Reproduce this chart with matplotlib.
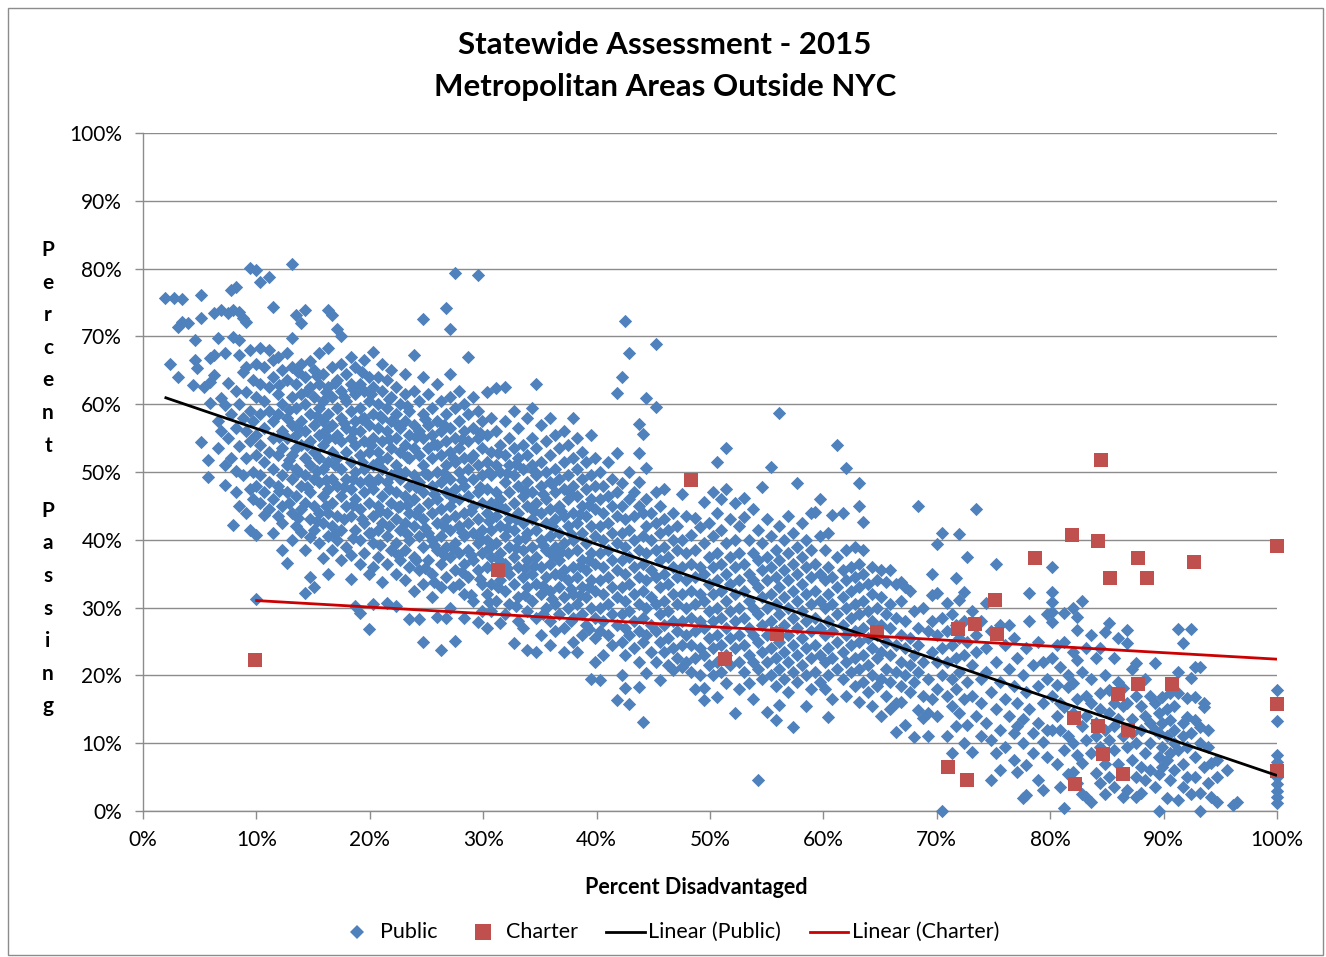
import numpy as np
import matplotlib
matplotlib.use("Agg")
import matplotlib.pyplot as plt
from matplotlib.lines import Line2D
from matplotlib.patches import Rectangle
from matplotlib.ticker import MultipleLocator, FuncFormatter

# ---------------- data (percent disadvantaged, percent passing) ----------------
# Public schools, written as (x, [y values at about that x]) per decade of x
public_00 = [
    (1.9, [75.7]), (2.4, [65.9]), (2.7, [75.7]), (3.1, [71.4, 64.0]), (3.4, [75.5, 72.1]),
    (4.0, [72.0]), (4.4, [62.8]), (4.6, [66.5, 69.5]), (4.8, [65.3]), (5.1, [72.7, 54.4, 76.1]),
    (5.4, [62.5]), (5.7, [49.3, 51.8]), (5.9, [63.3, 66.8, 60.2]), (6.3, [73.5, 64.3, 67.2]),
    (6.6, [69.8, 53.5, 57.5]), (6.9, [73.9, 60.9, 56.0]), (7.2, [67.6, 59.9, 51.0, 48.1]),
    (7.5, [63.1, 55.0, 73.5]), (7.8, [76.8, 58.5, 52.1]), (7.9, [69.9, 73.9, 42.2]),
    (8.2, [77.3, 62.0, 56.5, 50.2, 47.0]), (8.5, [69.5, 73.6, 67.3, 60.0, 53.8, 45.0]),
    (8.8, [72.7, 64.7, 58.0, 49.5]), (9.1, [65.5, 61.8, 56.0, 52.0, 44.0, 72.1]),
    (9.4, [80.1, 68.0, 59.0, 54.5, 47.5, 41.5]), (9.7, [63.5, 57.5, 50.0, 46.0]),
    (10.0, [79.8, 66.0, 61.0, 55.5, 52.5, 48.0, 40.7, 31.3]),
]
public_10 = [
    (10.3, [68.3, 63.0, 58.5, 54.0, 49.5, 45.5, 78.0]), (10.7, [65.5, 60.5, 56.5, 51.5, 47.0, 43.7]),
    (11.1, [78.8, 68.0, 62.5, 59.0, 53.0, 48.5, 44.5]), (11.5, [74.3, 66.5, 64.0, 57.5, 55.0, 50.5, 46.0, 41.0]),
    (11.9, [67.0, 61.5, 58.5, 52.5, 48.0, 43.5]), (12.3, [65.0, 60.0, 56.0, 53.5, 49.5, 45.0, 42.5, 38.5]),
    (12.7, [67.6, 63.5, 58.0, 55.0, 51.0, 47.0, 36.6]), (13.1, [80.7, 69.8, 65.5, 61.0, 57.0, 52.5, 49.0, 44.0, 40.0]),
    (13.5, [73.2, 63.0, 59.5, 55.5, 53.5, 50.5, 46.5, 42.0]), (13.9, [72.0, 66.0, 61.5, 57.5, 54.0, 48.0, 44.5, 41.2]),
    (14.3, [73.9, 64.0, 60.0, 56.0, 52.0, 49.5, 45.5, 32.2, 38.5]),
    (14.7, [66.4, 62.5, 58.5, 54.5, 51.0, 47.0, 43.0, 40.4, 34.5]),
    (15.1, [65.0, 61.0, 57.0, 53.0, 49.0, 45.0, 41.5, 33.0]), (15.5, [67.5, 63.0, 59.5, 55.5, 52.0, 48.5, 44.0, 39.5]),
    (15.9, [64.5, 60.5, 57.5, 54.0, 50.5, 46.5, 42.5, 37.3]),
    (16.3, [73.9, 68.3, 62.5, 58.5, 55.0, 51.5, 47.5, 44.0, 40.5, 35.0]),
    (16.7, [73.2, 65.5, 61.0, 57.0, 53.0, 49.0, 45.5, 42.0, 38.5]),
    (17.1, [71.1, 63.5, 59.5, 55.5, 52.0, 48.0, 43.5, 40.0]),
    (17.5, [70.1, 66.0, 62.0, 58.0, 54.5, 50.5, 46.5, 41.5, 37.0]),
    (17.9, [64.5, 60.5, 56.5, 53.0, 49.0, 45.0, 39.0]),
    (18.3, [67.0, 63.0, 59.0, 55.0, 51.5, 47.5, 43.5, 37.8, 34.2]),
    (18.7, [65.5, 61.5, 57.5, 54.0, 50.0, 46.0, 41.5, 30.3]),
    (19.1, [63.0, 59.5, 56.0, 52.5, 48.5, 44.5, 40.0, 36.5, 29.2]),
    (19.5, [66.5, 62.0, 58.0, 54.5, 50.5, 47.0, 42.5, 38.0]),
    (19.9, [64.0, 60.5, 57.0, 53.0, 49.0, 45.5, 41.0, 26.8, 35.0]),
]
public_20 = [
    (20.3, [67.7, 62.5, 58.5, 55.0, 51.0, 47.5, 43.5, 39.5, 36.0, 30.5]),
    (20.7, [64.0, 60.0, 56.5, 53.0, 49.0, 45.0, 41.5, 37.5]),
    (21.1, [66.0, 62.0, 58.0, 54.5, 50.5, 46.5, 42.5, 33.8]),
    (21.5, [63.5, 59.5, 56.0, 52.0, 48.5, 44.0, 40.5, 36.5, 30.7]),
    (21.9, [65.0, 61.0, 57.5, 53.5, 49.5, 45.5, 38.5]),
    (22.3, [62.5, 58.5, 55.0, 51.0, 47.0, 43.0, 39.5, 35.0, 30.2]),
    (22.7, [60.0, 56.5, 53.0, 49.0, 45.0, 41.5, 37.0]),
    (23.1, [64.5, 61.5, 57.5, 54.0, 50.0, 46.5, 42.5, 38.5, 34.0]),
    (23.5, [59.0, 55.5, 52.0, 48.0, 44.0, 40.0, 36.0, 28.3]),
    (23.9, [67.3, 62.0, 57.0, 53.5, 49.5, 46.0, 42.0, 37.5, 32.5]),
    (24.3, [60.5, 56.0, 52.5, 48.5, 44.5, 40.5, 35.5, 28.3]),
    (24.7, [72.5, 64.0, 58.5, 55.0, 51.0, 47.0, 43.0, 39.0, 33.5, 24.9]),
    (25.1, [61.5, 57.0, 53.5, 49.5, 45.5, 41.0, 37.0]),
    (25.5, [59.5, 55.5, 52.0, 48.0, 44.0, 40.0, 35.0, 31.5]),
    (25.9, [63.0, 57.5, 54.0, 50.0, 46.0, 42.5, 38.5, 28.6]),
    (26.3, [60.5, 56.0, 52.5, 48.5, 44.5, 40.5, 36.5, 33.0, 23.7]),
    (26.7, [74.2, 58.5, 54.5, 51.0, 47.0, 43.0, 39.0, 34.5, 28.5]),
    (27.1, [71.1, 64.5, 61.0, 56.5, 53.0, 49.0, 45.0, 41.5, 37.5, 30.0]),
    (27.5, [79.3, 59.5, 55.0, 51.5, 47.5, 43.5, 39.5, 35.5, 25.1]),
    (27.9, [62.0, 57.5, 53.5, 50.0, 46.0, 42.0, 38.0, 33.5]),
    (28.3, [60.0, 56.0, 52.0, 48.0, 44.0, 40.5, 36.5, 32.0, 28.5]),
    (28.7, [67.0, 58.5, 54.5, 50.5, 46.5, 42.5, 38.5, 34.5]),
    (29.1, [61.0, 56.5, 52.5, 49.0, 45.0, 41.0, 37.0, 31.0]),
    (29.5, [79.0, 59.0, 55.0, 51.0, 47.0, 43.0, 39.5, 35.5, 27.9]),
    (29.9, [57.5, 53.5, 49.5, 45.5, 41.5, 38.0, 33.5, 29.5]),
]
public_30 = [
    (30.3, [61.8, 55.5, 51.5, 47.5, 44.0, 40.0, 36.0, 32.0, 27.0]),
    (30.7, [58.0, 53.0, 49.5, 45.5, 41.5, 37.5, 33.5, 29.5]),
    (31.1, [62.4, 56.0, 51.0, 47.0, 43.5, 39.5, 35.5, 31.0]),
    (31.5, [54.0, 50.0, 46.0, 42.0, 38.0, 34.0, 27.7]),
    (31.9, [62.5, 57.5, 52.5, 48.5, 44.5, 40.5, 36.5, 32.5, 29.0]),
    (32.3, [55.0, 51.0, 47.0, 43.0, 39.0, 35.0, 30.5]),
    (32.7, [59.0, 53.5, 49.5, 45.5, 41.5, 37.5, 33.5, 24.8]),
    (33.1, [56.5, 52.0, 48.0, 44.0, 40.0, 36.0, 31.5, 28.0]),
    (33.5, [54.0, 50.5, 46.5, 42.5, 38.5, 34.5, 27.0]),
    (33.9, [58.0, 52.5, 48.5, 45.0, 41.0, 37.0, 33.0, 29.5, 23.7]),
    (34.3, [59.4, 55.0, 51.0, 47.0, 43.0, 39.0, 35.0, 31.0]),
    (34.7, [63.0, 53.5, 49.5, 45.5, 41.5, 37.5, 33.5, 28.5, 23.5]),
    (35.1, [57.0, 51.5, 48.0, 44.0, 40.0, 36.0, 32.0, 26.0]),
    (35.5, [54.5, 50.0, 46.0, 42.5, 38.5, 34.5, 30.0]),
    (35.9, [58.0, 52.5, 48.5, 44.5, 40.5, 36.5, 32.5, 28.0, 24.5]),
    (36.3, [55.5, 50.5, 47.0, 43.0, 39.0, 35.0, 30.5, 26.5]),
    (36.7, [53.5, 49.0, 45.0, 41.0, 37.0, 33.0, 29.0]),
    (37.1, [56.0, 51.5, 47.5, 43.5, 39.5, 35.5, 31.5, 27.0, 23.5]),
    (37.5, [54.0, 49.5, 46.0, 42.0, 38.0, 34.0, 30.0]),
    (37.9, [58.0, 52.0, 48.0, 44.0, 40.0, 36.0, 32.0, 28.5, 25.0]),
    (38.3, [55.0, 50.5, 46.5, 42.5, 38.5, 34.5, 30.5, 23.5]),
    (38.7, [53.0, 49.0, 45.0, 41.0, 37.0, 33.0, 29.0, 26.0]),
    (39.1, [51.5, 47.5, 43.5, 39.5, 35.5, 31.5, 27.5]),
    (39.5, [55.5, 49.5, 46.0, 42.0, 38.0, 34.0, 30.0, 19.5]),
    (39.9, [52.0, 48.0, 44.5, 40.5, 36.5, 32.5, 28.5, 25.5, 22.0]),
]
public_40 = [
    (40.3, [50.0, 46.0, 42.0, 38.0, 34.0, 30.0, 26.5, 19.3]),
    (40.6, [48.0, 44.0, 40.0, 36.0, 32.0, 28.0, 23.0]),
    (41.0, [51.5, 46.5, 42.5, 38.5, 34.5, 30.5, 26.0]),
    (41.4, [49.0, 45.0, 41.0, 37.0, 33.0, 29.0, 24.5]),
    (41.8, [61.6, 52.8, 47.0, 43.5, 39.5, 35.5, 31.5, 27.5, 16.4]),
    (42.2, [64.0, 48.4, 45.0, 41.0, 37.0, 33.0, 29.0, 25.0, 20.0]),
    (42.5, [72.3, 43.0, 39.0, 35.0, 31.0, 27.0, 23.0, 18.1]),
    (42.9, [67.6, 50.0, 46.0, 41.5, 37.5, 33.5, 29.5, 26.0, 15.8]),
    (43.3, [47.0, 43.5, 40.0, 36.0, 32.0, 28.0, 24.0]),
    (43.7, [57.1, 52.8, 48.5, 45.0, 38.5, 34.5, 30.5, 26.5, 22.0, 18.3]),
    (44.1, [55.6, 44.0, 40.5, 36.5, 32.5, 28.5, 25.0, 13.1]),
    (44.4, [60.9, 50.6, 46.0, 42.0, 38.0, 34.0, 30.0, 26.0, 20.4]),
    (44.8, [43.9, 40.0, 35.5, 31.5, 27.5, 23.5]),
    (45.2, [68.9, 59.6, 47.0, 42.5, 38.5, 34.5, 30.5, 26.5, 22.0]),
    (45.6, [45.0, 41.0, 37.0, 33.0, 29.0, 25.0, 19.3]),
    (45.9, [47.5, 43.0, 39.0, 35.0, 31.0, 27.5, 23.5]),
    (46.3, [41.4, 37.5, 33.5, 29.5, 25.5, 21.5]),
    (46.7, [44.0, 40.0, 36.0, 32.0, 28.0, 24.0, 20.8]),
    (47.1, [42.0, 38.5, 34.5, 30.5, 26.5, 22.5]),
    (47.5, [46.7, 40.0, 36.0, 32.0, 28.0, 24.5, 21.2]),
    (47.9, [43.5, 38.0, 34.0, 30.0, 26.0, 22.0]),
    (48.3, [40.7, 36.5, 32.5, 28.5, 24.5, 20.5]),
    (48.7, [43.2, 38.5, 34.5, 30.5, 26.5, 22.5, 18.0]),
    (49.1, [41.9, 36.0, 32.0, 28.0, 24.0, 20.0]),
    (49.5, [45.6, 39.5, 35.0, 31.0, 27.0, 23.0, 18.1, 16.4]),
    (49.9, [42.5, 37.5, 33.5, 29.5, 25.5, 21.5]),
]
public_50 = [
    (50.3, [47.0, 40.5, 36.0, 32.0, 28.0, 24.0, 20.0]),
    (50.6, [51.5, 44.0, 38.0, 34.0, 30.0, 26.0, 22.0, 16.8]),
    (51.0, [46.0, 41.5, 36.5, 32.5, 28.5, 24.5, 20.5]),
    (51.4, [53.5, 47.5, 39.5, 35.0, 31.0, 27.0, 23.0, 18.9]),
    (51.8, [43.0, 37.5, 33.5, 29.5, 25.5, 21.5]),
    (52.2, [45.5, 40.0, 36.0, 32.0, 28.0, 24.0, 14.5]),
    (52.6, [42.0, 38.0, 34.0, 30.0, 26.0, 22.0, 18.0]),
    (53.0, [46.2, 43.4, 36.5, 32.5, 28.5, 24.5, 20.5]),
    (53.4, [40.0, 35.0, 31.0, 27.0, 23.0, 18.9]),
    (53.8, [44.5, 38.0, 34.0, 30.0, 26.0, 22.0, 16.5]),
    (54.2, [41.5, 37.0, 33.0, 29.0, 25.0, 21.0, 4.6]),
    (54.6, [47.8, 39.5, 35.5, 31.5, 27.5, 23.5, 19.5]),
    (55.0, [43.0, 37.5, 34.0, 30.0, 26.0, 22.0, 14.6]),
    (55.4, [50.7, 40.5, 36.0, 32.0, 28.0, 24.0, 20.0]),
    (55.8, [38.5, 34.5, 30.5, 26.5, 22.5, 18.5, 13.4]),
    (56.1, [58.7, 42.0, 37.0, 33.0, 29.0, 25.0, 21.0, 15.6]),
    (56.5, [40.0, 35.5, 31.5, 27.5, 23.5, 19.5]),
    (56.9, [43.5, 38.0, 34.0, 30.0, 26.0, 22.0, 17.5]),
    (57.3, [41.0, 36.5, 32.5, 28.5, 24.5, 20.5, 12.4]),
    (57.7, [48.4, 39.0, 35.0, 31.0, 27.0, 23.0, 19.0]),
    (58.1, [42.5, 37.5, 33.5, 29.5, 25.5, 21.5]),
    (58.5, [40.0, 36.0, 32.0, 28.0, 24.0, 20.0, 15.5]),
    (58.9, [44.0, 38.5, 34.5, 30.5, 26.5, 22.5, 18.0]),
    (59.3, [44.1, 36.5, 32.5, 28.5, 24.5, 20.5]),
    (59.7, [46.0, 40.5, 35.0, 31.0, 27.0, 23.0, 19.0]),
]
public_60 = [
    (60.1, [38.5, 34.0, 30.0, 26.0, 22.0, 18.0]),
    (60.4, [41.0, 36.0, 32.0, 28.0, 24.0, 20.0, 13.9]),
    (60.8, [43.7, 34.5, 30.5, 26.5, 22.5, 16.5]),
    (61.2, [54.0, 37.5, 33.0, 29.0, 25.0, 21.0]),
    (61.7, [43.9, 35.5, 31.5, 27.5, 23.5, 19.5]),
    (62.0, [50.6, 38.5, 34.0, 30.0, 26.0, 22.0, 17.0]),
    (62.4, [36.0, 32.5, 28.5, 24.5, 20.5]),
    (62.8, [39.0, 34.5, 30.5, 26.5, 22.5, 18.5]),
    (63.1, [48.4, 45.0, 36.5, 33.0, 29.0, 25.0, 21.0, 16.1]),
    (63.5, [42.6, 38.5, 35.0, 31.0, 27.0, 23.0, 19.0]),
    (63.9, [33.5, 29.5, 25.5, 21.5, 17.5]),
    (64.3, [36.0, 32.0, 28.0, 24.0, 20.0, 15.5]),
    (64.7, [34.0, 30.0, 26.0, 22.5, 18.5]),
    (65.1, [35.5, 31.5, 27.5, 23.5, 19.5, 14.0]),
    (65.5, [33.8, 29.0, 25.0, 21.0, 17.0]),
    (65.9, [35.5, 30.5, 27.0, 23.0, 19.0, 15.0]),
    (66.4, [33.5, 28.5, 24.5, 20.5, 11.7, 15.9]),
    (66.8, [33.8, 31.0, 26.0, 22.0, 16.1, 18.5]),
    (67.2, [33.0, 28.0, 24.0, 20.0, 12.7]),
    (67.6, [32.5, 25.5, 21.5, 17.5]),
    (68.0, [29.5, 23.0, 19.0, 10.9]),
    (68.3, [45.0, 27.0, 24.5, 14.9, 20.5]),
    (68.8, [30.0, 22.0, 17.0, 13.7]),
    (69.2, [26.5, 19.5, 11.0, 14.5]),
    (69.6, [35.0, 31.9, 28.0, 23.5, 16.5]),
]
public_70 = [
    (70.0, [39.4, 32.2, 26.0, 22.0, 18.0, 14.0]),
    (70.5, [41.0, 28.5, 24.0, 20.0, 0.0]),
    (70.9, [30.7, 26.5, 22.0, 17.0, 11.0]),
    (71.3, [29.0, 24.5, 19.5, 15.5, 8.5]),
    (71.7, [34.4, 27.5, 22.5, 18.0, 12.5]),
    (72.0, [40.9, 31.1, 25.5, 20.5, 14.5]),
    (72.4, [32.3, 28.0, 23.0, 16.5, 10.0]),
    (72.7, [37.5, 25.0, 19.0, 12.7]),
    (73.1, [29.5, 21.5, 17.0, 8.7]),
    (73.5, [44.5, 26.0, 23.5, 14.0]),
    (73.9, [28.0, 19.5, 16.0, 11.0]),
    (74.3, [30.7, 24.0, 20.5, 13.0]),
    (74.8, [26.5, 17.5, 10.5, 4.5]),
    (75.2, [36.4, 22.0, 15.0, 8.6]),
    (75.6, [27.5, 19.0, 12.0, 6.0]),
    (76.0, [24.5, 16.5, 9.5]),
    (76.4, [21.0, 14.0, 27.5]),
    (76.8, [25.5, 18.5, 11.5, 7.5]),
    (77.1, [22.5, 16.0, 12.5, 5.8]),
    (77.6, [20.0, 13.5, 10.0, 1.9]),
    (77.9, [24.0, 17.5, 6.8, 2.4]),
    (78.1, [32.2, 28.0, 15.0]),
    (78.5, [21.5, 11.5, 8.6]),
    (78.9, [25.0, 18.5, 13.0, 4.6]),
    (79.4, [22.0, 16.0, 3.1, 10.2]),
    (79.7, [29.0, 19.5, 12.0, 8.0]),
]
public_80 = [
    (80.2, [36.0, 32.3, 30.8, 29.4, 27.9, 22.5, 11.9, 17.0]),
    (80.6, [24.5, 18.6, 14.0, 7.0]),
    (80.9, [21.2, 16.0, 12.0, 3.5]),
    (81.2, [29.2, 25.0, 15.3, 9.0, 0.4]),
    (81.6, [20.0, 18.3, 11.0, 5.5]),
    (82.0, [29.9, 23.5, 18.9, 14.5, 5.8, 10.0]),
    (82.4, [28.6, 26.7, 22.3, 8.3, 4.1, 16.5]),
    (82.8, [31.0, 20.5, 12.5, 7.1, 2.5]),
    (83.2, [24.0, 17.0, 10.5, 2.1, 14.0]),
    (83.6, [26.0, 19.5, 15.9, 1.3, 8.5]),
    (84.0, [22.5, 13.0, 5.6, 11.0]),
    (84.4, [24.0, 17.4, 9.5, 4.1, 15.0]),
    (84.8, [26.4, 20.0, 12.0, 7.0, 2.5]),
    (85.2, [27.7, 17.8, 14.5, 5.0, 10.5]),
    (85.6, [22.5, 16.0, 9.0, 3.5, 12.5]),
    (86.0, [25.5, 19.0, 13.5, 7.0]),
    (86.4, [18.1, 11.0, 2.1, 5.5, 15.5]),
    (86.8, [26.7, 24.8, 16.0, 9.5, 3.1]),
    (87.2, [21.0, 13.5, 7.5, 11.5]),
    (87.6, [21.8, 17.0, 10.0, 2.1, 5.0]),
    (88.0, [15.5, 12.0, 6.5, 2.7]),
    (88.4, [19.5, 8.5, 4.5, 14.0]),
    (88.8, [13.0, 10.0, 6.0, 17.0]),
    (89.2, [21.8, 16.0, 11.9, 3.5]),
    (89.6, [14.5, 8.0, 5.5, 0.0, 11.5]),
]
public_90 = [
    (89.9, [16.8, 13.0, 9.5, 6.5]),
    (90.3, [15.0, 11.0, 1.9, 7.5]),
    (90.6, [17.4, 13.4, 8.5, 4.5]),
    (90.9, [11.9, 15.5, 6.0, 10.0]),
    (91.3, [26.8, 20.5, 17.4, 1.6, 9.0]),
    (91.7, [24.8, 13.0, 7.0, 3.5, 11.0]),
    (92.1, [16.7, 13.9, 5.0, 9.5]),
    (92.4, [26.8, 19.6, 11.5, 2.5]),
    (92.8, [21.2, 16.8, 13.4, 5.0, 8.0]),
    (93.2, [21.2, 12.4, 0.0, 10.0, 2.7]),
    (93.6, [16.0, 15.3, 6.5]),
    (93.9, [9.5, 4.1, 12.0]),
    (94.2, [7.1, 2.0]),
    (94.7, [7.5, 1.3, 5.0]),
    (95.6, [6.0]),
    (96.1, [0.9]),
    (96.5, [1.3]),
    (100.0, [17.8, 13.3, 8.3, 7.2, 5.0, 4.0, 3.0, 2.0, 1.2]),
]
# more public points in the densest part of the cloud (x 12-40%)
public_core = [
    (12.0, [62.8, 55.2, 47.2]), (12.9, [59.2, 51.8, 45.5]), (13.7, [64.8, 56.5, 50.0, 43.2]),
    (14.5, [62.0, 54.0, 47.8]), (15.3, [64.2, 58.2, 50.2, 42.8]), (16.1, [61.8, 56.2, 48.8, 45.0]),
    (16.9, [63.2, 55.0, 51.0, 40.8]), (17.7, [61.0, 57.2, 47.8, 43.0]),
    (18.5, [62.2, 56.0, 49.0, 45.2, 40.2]), (19.3, [64.8, 57.8, 51.5, 43.0]),
    (20.1, [61.5, 54.0, 48.2, 41.0]), (20.9, [58.2, 51.8, 44.2, 39.2]),
    (21.7, [60.8, 54.8, 47.5, 42.0]), (22.5, [57.0, 50.2, 44.8, 37.8]),
    (23.3, [59.8, 52.2, 45.2, 40.8]), (24.1, [55.2, 47.8, 43.8, 37.0]),
    (24.9, [57.8, 49.8, 41.8, 35.8]), (25.7, [54.2, 46.8, 39.2, 33.8]),
    (26.5, [57.0, 49.8, 42.0, 37.8]), (27.3, [52.0, 46.2, 38.8, 33.0]),
    (28.1, [54.8, 48.8, 41.2, 35.2]), (28.9, [52.0, 44.2, 37.8, 31.8]),
    (29.7, [55.8, 47.8, 40.2, 34.2]), (30.5, [50.0, 42.8, 38.8, 30.8]),
    (31.3, [52.8, 45.2, 37.2, 33.0]), (32.1, [49.8, 41.8, 35.8]),
    (32.9, [51.2, 43.0, 38.8, 30.2]), (33.7, [47.2, 40.2, 35.8, 31.8]),
    (34.5, [50.2, 44.2, 36.2]), (35.3, [46.8, 39.2, 33.2, 29.0]),
    (36.1, [48.2, 42.0, 37.8, 31.2]), (36.9, [44.2, 38.2, 34.8]),
    (37.7, [46.8, 40.8, 32.8, 28.0]), (38.5, [43.8, 36.2, 31.8]),
    (39.3, [45.2, 37.0, 33.0, 26.8]),
]

# Charter schools
charter_x = [9.9, 31.3, 48.3, 51.3, 55.9, 64.7, 71.0, 71.9, 72.7, 73.4, 75.1, 75.3,
             78.7, 81.9, 82.1, 82.2, 84.2, 84.2, 84.5, 84.7, 85.3, 86.0, 86.4, 86.9,
             87.7, 87.7, 88.5, 90.7, 92.7, 100.0, 100.0, 100.0]
charter_y = [22.3, 35.5, 48.8, 22.4, 26.1, 26.4, 6.5, 26.8, 4.6, 27.6, 31.1, 26.1,
             37.3, 40.7, 13.7, 4.0, 12.5, 39.8, 51.8, 8.4, 34.4, 17.3, 5.5, 11.9,
             37.3, 18.7, 34.4, 18.7, 36.7, 39.1, 15.8, 5.9]

title_lines = ["Statewide Assessment - 2015", "Metropolitan Areas Outside NYC"]
x_label = "Percent Disadvantaged"
y_label = "Percent Passing"
legend_labels = ["Public", "Charter", "Linear (Public)", "Linear (Charter)"]

# ---------------- build arrays ----------------
pub_x, pub_y = [], []
for block in (public_00, public_10, public_20, public_30, public_40,
              public_50, public_60, public_70, public_80, public_90, public_core):
    for xv, ys in block:
        for yv in ys:
            pub_x.append(xv)
            pub_y.append(yv)
pub_x = np.array(pub_x) / 100.0
pub_y = np.array(pub_y) / 100.0
ch_x = np.array(charter_x) / 100.0
ch_y = np.array(charter_y) / 100.0

BLUE = "#4F81BD"
RED = "#C0504D"
TREND_RED = "#CC0000"
GRID = "#8C8C8C"
FONT = "Lato"

W, H = 1326, 957
fig = plt.figure(figsize=(W / 100, H / 100), dpi=100)
fig.patch.set_facecolor("white")

def fx(px):
    return px / W

def fy(py):
    return 1 - py / H

ax = fig.add_axes([fx(143), fy(811), fx(1277) - fx(143), fy(133) - fy(811)])

ax.scatter(pub_x, pub_y, marker="D", s=46, color=BLUE, linewidths=0, zorder=3, clip_on=False)
ax.scatter(ch_x, ch_y, marker="s", s=104, color=RED, linewidths=0, zorder=4, clip_on=False)

# linear trendlines (least squares), spanning each series' x range
for xs, ys, col in ((pub_x, pub_y, "black"), (ch_x, ch_y, TREND_RED)):
    m, b = np.polyfit(xs, ys, 1)
    xl = np.array([xs.min(), xs.max()])
    ax.plot(xl, m * xl + b, color=col, lw=2.0, zorder=5, solid_capstyle="butt")

ax.set_xlim(0, 1.0)
ax.set_ylim(0, 1.0)
ax.xaxis.set_major_locator(MultipleLocator(0.1))
ax.yaxis.set_major_locator(MultipleLocator(0.1))
pct = FuncFormatter(lambda v, p: f"{v * 100:.0f}%")
ax.xaxis.set_major_formatter(pct)
ax.yaxis.set_major_formatter(pct)
ax.grid(axis="y", color=GRID, lw=1.0, zorder=0)
ax.set_axisbelow(True)
for s in ("top", "right"):
    ax.spines[s].set_visible(False)
for s in ("left", "bottom"):
    ax.spines[s].set_color(GRID)
    ax.spines[s].set_linewidth(1.0)
ax.tick_params(axis="both", direction="out", length=6, width=1, color=GRID,
               labelsize=15, labelcolor="black")
ax.tick_params(axis="x", pad=8)
ax.tick_params(axis="y", pad=9)
for lab in ax.get_xticklabels() + ax.get_yticklabels():
    lab.set_fontfamily(FONT)

# titles and axis labels
fig.text(fx(665), fy(45), title_lines[0], ha="center", va="center",
         fontsize=22.5, fontweight="bold", family=FONT)
fig.text(fx(665), fy(87), title_lines[1], ha="center", va="center",
         fontsize=22.5, fontweight="bold", family=FONT)
fig.text(fx(696), fy(888), x_label, ha="center", va="center",
         fontsize=15.5, fontweight="bold", family=FONT)
for i, ch in enumerate(y_label):
    if ch.strip():
        fig.text(fx(48), fy(248 + i * 32.6), ch, ha="center", va="center_baseline",
                 fontsize=15, fontweight="bold", family=FONT)

# legend (manual, to match layout)
ly = fy(932)
LFS = 15.5
fig.add_artist(Line2D([fx(357)], [ly], marker="D", markersize=7, color=BLUE, lw=0,
                      markeredgewidth=0, transform=fig.transFigure))
fig.text(fx(380), ly, legend_labels[0], ha="left", va="center", fontsize=LFS, family=FONT)
fig.add_artist(Line2D([fx(483)], [ly], marker="s", markersize=11, color=RED, lw=0,
                      markeredgewidth=0, transform=fig.transFigure))
fig.text(fx(506), ly, legend_labels[1], ha="left", va="center", fontsize=LFS, family=FONT)
fig.add_artist(Line2D([fx(606), fx(645)], [ly, ly], color="black", lw=2,
                      transform=fig.transFigure))
fig.text(fx(648), ly, legend_labels[2], ha="left", va="center", fontsize=LFS, family=FONT)
fig.add_artist(Line2D([fx(810), fx(848)], [ly, ly], color=TREND_RED, lw=2,
                      transform=fig.transFigure))
fig.text(fx(852), ly, legend_labels[3], ha="left", va="center", fontsize=LFS, family=FONT)

# chart-area border
fig.add_artist(Rectangle((fx(8), fy(955)), fx(1323) - fx(8), fy(8) - fy(955),
                         fill=False, edgecolor="#8C8C8C", lw=1.0, transform=fig.transFigure))

fig.savefig("out.png", dpi=100, facecolor="white")
